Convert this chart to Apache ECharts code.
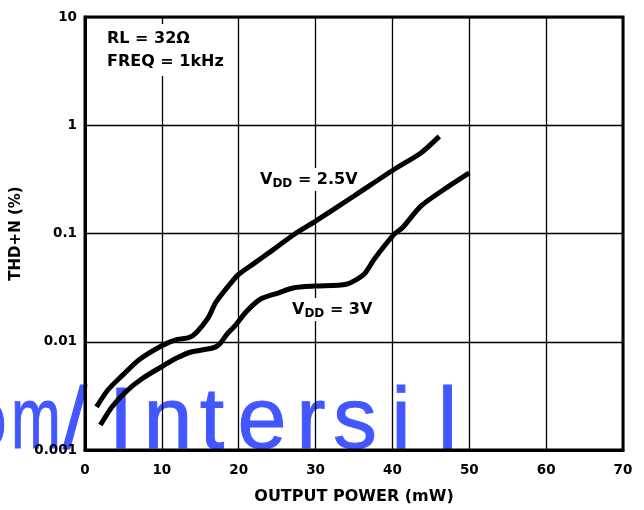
<!DOCTYPE html>
<html>
<head>
<meta charset="utf-8">
<script src="https://cdn.jsdelivr.net/npm/echarts@6/dist/echarts.min.js"></script>
<style>
html,body{margin:0;padding:0;background:#fff;}
#c{width:644px;height:510px;}
</style>
</head>
<body>
<div id="c"></div>
<script>
// Data
const xTicks = [0, 10, 20, 30, 40, 50, 60, 70];
const yTicks = [0.001, 0.01, 0.1, 1, 10];
const seriesNames = ['VDD = 2.5V', 'VDD = 3V'];
const power25 = [1.5, 3, 5, 7, 10, 12, 13.5, 14.5, 16, 17, 19, 20, 22, 24.5, 27.2, 30, 35, 40.2, 43.7, 46.1];
const thd25 = [0.0025, 0.0036, 0.005, 0.0068, 0.0092, 0.0105, 0.0109, 0.0122, 0.0165, 0.023, 0.035, 0.042, 0.053, 0.071, 0.098, 0.13, 0.222, 0.39, 0.555, 0.79];
const power3 = [2, 3.5, 5.4, 7.5, 10, 12, 13.7, 16.7, 17.5, 18.5, 19.5, 21, 22.8, 25, 27.2, 30, 34, 36.3, 37.6, 40.2, 41.3, 43.7, 46.7, 50];
const thd3 = [0.0017, 0.0025, 0.0035, 0.0046, 0.0059, 0.0071, 0.008, 0.0088, 0.0095, 0.0118, 0.014, 0.019, 0.0247, 0.028, 0.0315, 0.0327, 0.034, 0.042, 0.0575, 0.098, 0.113, 0.179, 0.255, 0.363];
const watermarkChars = ['o', 'm', '/', 'I', 'n', 't', 'e', 'r', 's', 'i', 'l'];
const watermarkCenters = [-17, 36, 75, 121, 168, 212, 262, 311, 355, 401, 447.5];

const pairs = (xs, ys) => xs.map((x, i) => [x, ys[i]]);
const FONT = '"DejaVu Sans", sans-serif';
const WMFONT = '"Liberation Sans", Arial, sans-serif';

const chart = echarts.init(document.getElementById('c'), null, {renderer: 'canvas'});

const wm = watermarkChars.map((ch, i) => ({
  type: 'text', z: -10,
  x: watermarkCenters[i], y: 468, scaleX: ch === 'm' ? 0.68 : 1,
  style: {text: ch, fill: '#4257ff', stroke: '#4257ff', lineWidth: 1, font: 'normal 88px ' + WMFONT, textAlign: 'center', textVerticalAlign: 'bottom'}
}));

const labelRich = {
  a: {fontSize: 16, fontWeight: 'bold', fontFamily: FONT, color: '#000'},
  b: {fontSize: 12, fontWeight: 'bold', fontFamily: FONT, color: '#000', padding: [9, 0, 0, 0]}
};

chart.setOption({
  animation: false,
  backgroundColor: '#fff',
  grid: {left: 85, right: 21, top: 17, bottom: 59, show: true, borderColor: '#000', borderWidth: 3, backgroundColor: 'transparent', z: 5},
  xAxis: {
    type: 'value', min: 0, max: 70, interval: 10,
    name: 'OUTPUT POWER (mW)', nameLocation: 'middle', nameGap: 39,
    nameTextStyle: {fontSize: 16, fontWeight: 'bold', fontFamily: FONT, color: '#000'},
    axisLine: {show: true, onZero: false, lineStyle: {color: '#000', width: 3}},
    axisTick: {show: false},
    splitLine: {show: true, lineStyle: {color: '#000', width: 1.3}},
    axisLabel: {fontSize: 13.5, fontWeight: 'bold', fontFamily: FONT, color: '#000', margin: 13,
      formatter: v => xTicks.includes(v) ? String(v) : ''}
  },
  yAxis: {
    type: 'log', logBase: 10, min: 0.001, max: 10,
    name: 'THD+N (%)', nameLocation: 'middle', nameGap: 58, nameRotate: 90,
    nameTextStyle: {fontSize: 15, fontWeight: 'bold', fontFamily: FONT, color: '#000'},
    axisLine: {show: true, lineStyle: {color: '#000', width: 3}},
    axisTick: {show: false},
    splitLine: {show: true, lineStyle: {color: '#000', width: 1.3}},
    axisLabel: {fontSize: 13.5, fontWeight: 'bold', fontFamily: FONT, color: '#000', margin: 8,
      formatter: v => {
        const t = yTicks.find(k => Math.abs(Math.log10(k) - Math.log10(v)) < 1e-6);
        return t === undefined ? '' : String(t);
      }}
  },
  series: [
    {name: seriesNames[0], type: 'line', data: pairs(power25, thd25), smooth: 0.25, showSymbol: false, symbol: 'none',
      lineStyle: {color: '#000', width: 5, cap: 'butt'}, z: 10},
    {name: seriesNames[1], type: 'line', data: pairs(power3, thd3), smooth: 0.25, showSymbol: false, symbol: 'none',
      lineStyle: {color: '#000', width: 5, cap: 'butt'}, z: 10}
  ],
  graphic: wm.concat([
    {type: 'text', z: 8, x: 103, y: 24,
      style: {text: 'RL = 32Ω\nFREQ = 1kHz', font: 'bold 16px ' + FONT, fill: '#000', lineHeight: 23,
        backgroundColor: '#fff', padding: [3, 4, 3, 4]}},
    {type: 'text', z: 8, x: 257, y: 168,
      style: {text: '{a|V}{b|DD}{a| = 2.5V}', rich: labelRich, backgroundColor: '#fff', padding: [1, 3, 1, 3]}},
    {type: 'text', z: 8, x: 289, y: 298,
      style: {text: '{a|V}{b|DD}{a| = 3V}', rich: labelRich, backgroundColor: '#fff', padding: [1, 3, 1, 3]}}
  ])
});
</script>
</body>
</html>
